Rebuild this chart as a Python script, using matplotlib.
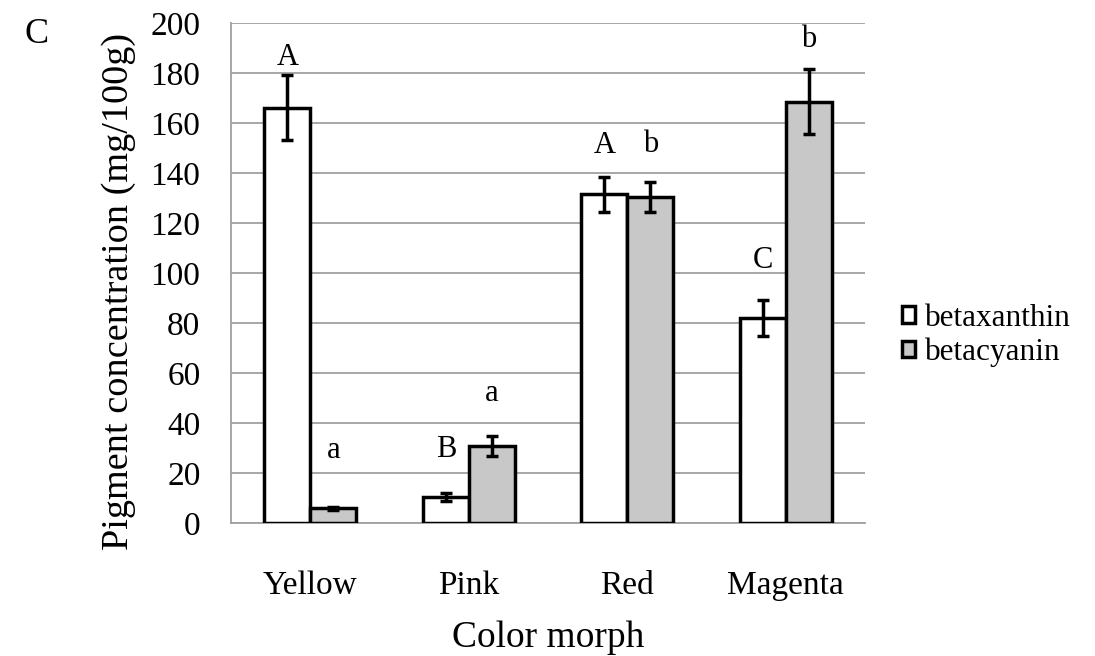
import numpy as np
import matplotlib.pyplot as plt
from matplotlib.patches import Patch

plt.rcParams['font.family'] = ['Liberation Serif', 'DejaVu Serif']

# data
morphs = ['Yellow', 'Pink', 'Red', 'Magenta']
betaxanthin = [166, 10.5, 131.5, 82]
betaxanthin_err = [13, 1.5, 7, 7]
betacyanin = [6, 31, 130.5, 168.5]
betacyanin_err = [0.6, 4, 6, 13]

# significance letters and their baseline heights
letters_bx = ['A', 'B', 'A', 'C']
letters_bx_y = [183, 26.5, 148, 102]
letters_bc = ['a', 'a', 'b', 'b']
letters_bc_y = [26, 49, 148.5, 190.5]

fig = plt.figure(figsize=(10.95, 6.56), dpi=100)
ax = fig.add_axes([0.211, 0.2027, 0.579, 0.7623])

x = np.arange(len(morphs))
w = 0.29
lw = 2.5
ax.bar(x - w/2, betaxanthin, w, color='white', edgecolor='black', linewidth=lw, zorder=3)
ax.bar(x + w/2, betacyanin, w, color='#c8c8c8', edgecolor='black', linewidth=lw, zorder=3)
ax.errorbar(x - w/2, betaxanthin, yerr=betaxanthin_err, fmt='none', ecolor='black',
            elinewidth=lw, capsize=4, capthick=lw, zorder=4)
ax.errorbar(x + w/2, betacyanin, yerr=betacyanin_err, fmt='none', ecolor='black',
            elinewidth=lw, capsize=4, capthick=lw, zorder=4)

# letters
for i in range(len(morphs)):
    ax.text(x[i] - w/2, letters_bx_y[i], letters_bx[i], ha='center', va='baseline', fontsize=22)
    ax.text(x[i] + w/2, letters_bc_y[i], letters_bc[i], ha='center', va='baseline', fontsize=22)

ax.set_xlim(-0.5, 3.5)
ax.set_ylim(0, 200)
ax.set_yticks(np.arange(0, 201, 20))
ax.set_xticks(x)
ax.set_xticklabels(morphs)
ax.tick_params(axis='both', length=0, labelsize=24)
ax.tick_params(axis='x', pad=34)
ax.tick_params(axis='y', pad=22)
ax.yaxis.grid(True, color='#a0a0a0', linewidth=1.3, zorder=0)
ax.set_axisbelow(True)
for s in ['top', 'right']:
    ax.spines[s].set_visible(False)
ax.spines['left'].set_color('#a0a0a0')
ax.spines['bottom'].set_color('#a0a0a0')
ax.spines['left'].set_linewidth(1.3)
ax.spines['bottom'].set_linewidth(1.3)

ax.set_ylabel('Pigment concentration (mg/100g)', fontsize=27.5)
ax.yaxis.set_label_coords(-0.150, 0.462)
ax.set_xlabel('Color morph', fontsize=27)
ax.xaxis.set_label_coords(0.5, -0.194)

handles = [Patch(facecolor='white', edgecolor='black', linewidth=lw),
           Patch(facecolor='#c8c8c8', edgecolor='black', linewidth=lw)]
fig.legend(handles, ['betaxanthin', 'betacyanin'], loc='center left',
           bbox_to_anchor=(902 / 1095, 0.489), frameon=False, fontsize=22.5,
           borderpad=0, borderaxespad=0,
           handlelength=0.42, handleheight=0.42, handletextpad=0.3, labelspacing=0.15)

fig.text(0.022, 0.972, 'C', fontsize=26, va='top', ha='left')

plt.savefig('out.png', dpi=100)
